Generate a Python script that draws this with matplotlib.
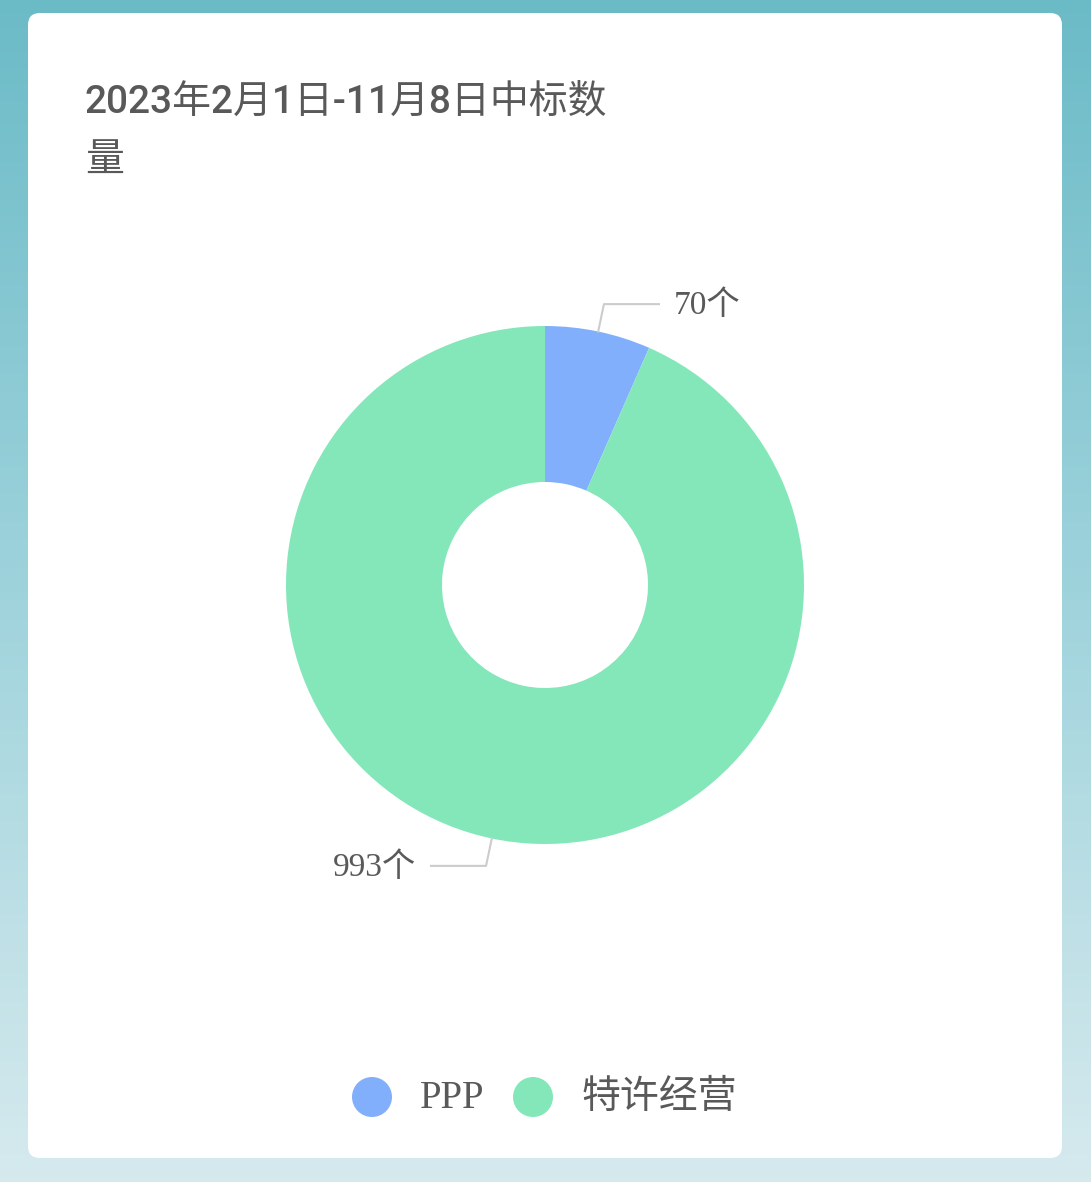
import numpy as np
import matplotlib
matplotlib.use("Agg")
import matplotlib.pyplot as plt
from matplotlib.patches import FancyBboxPatch
from matplotlib.colors import LinearSegmentedColormap

# data
title_lines = ["2023年2月1日-11月8日中标数", "量"]
labels = ["PPP", "特许经营"]
values = [70, 993]
value_text = ["70个", "993个"]
colors = ["#82affc", "#84e7b9"]

W, H = 1091, 1182
fig = plt.figure(figsize=(W / 100, H / 100), dpi=100)
ax = fig.add_axes([0, 0, 1, 1])
ax.set_xlim(0, W)
ax.set_ylim(0, H)
ax.axis("off")

# background gradient
bg = LinearSegmentedColormap.from_list("bg", ["#d6eaee", "#9fd3dc", "#6bbbc7"])
grad = np.linspace(0, 1, 256).reshape(-1, 1)
ax.imshow(grad, cmap=bg, extent=[0, W, 0, H], origin="lower", aspect="auto", zorder=0)

# white card
card = FancyBboxPatch((28 + 12, H - 1158 + 12), 1034 - 24, 1145 - 24,
                      boxstyle="round,pad=12", fc="white", ec="none", zorder=1)
ax.add_patch(card)

# title
sans_cjk = ["Roboto", "Noto Sans CJK SC"]
for i, line in enumerate(title_lines):
    ax.text(85, H - 103 - 57 * i, line, fontsize=28, color="#595959",
            family=sans_cjk, fontweight="medium", va="center", ha="left", zorder=3)

# donut
cx, cy = 545, H - 585
r_out, r_in = 259, 103
wedges, _ = ax.pie(values, colors=colors, startangle=90, counterclock=False,
                   center=(cx, cy), radius=r_out, frame=True,
                   wedgeprops=dict(width=r_out - r_in, edgecolor="none"))
for w in wedges:
    w.set_zorder(2)
ax.set_xlim(0, W)
ax.set_ylim(0, H)
ax.set_aspect("auto")
ax.axis("off")

# labels with leader lines
serif_cjk = ["Liberation Serif", "Noto Sans CJK SC"]
for w, txt in zip(wedges, value_text):
    mid = np.deg2rad((w.theta1 + w.theta2) / 2)
    x0, y0 = cx + r_out * np.cos(mid), cy + r_out * np.sin(mid)
    x1, y1 = cx + (r_out + 28) * np.cos(mid), cy + (r_out + 28) * np.sin(mid)
    side = 1 if np.cos(mid) >= 0 else -1
    x2 = x1 + side * 55
    ax.plot([x0, x1, x2], [y0, y1, y1], color="#cccccc", lw=1.5, zorder=3)
    ax.text(x2 + side * 15, y1 - 2, txt, fontsize=24, color="#595959", family=serif_cjk,
            ha="left" if side > 0 else "right", va="center", zorder=3)

# legend
leg_x = [372, 533]
leg_y = H - 1097
for x, lab, c in zip(leg_x, labels, colors):
    ax.scatter([x], [leg_y], s=(40 * 0.72) ** 2, color=c, zorder=3, edgecolors="none")
    ax.text(x + 48, leg_y - 1, lab, fontsize=28, color="#595959", family=serif_cjk,
            ha="left", va="center", zorder=3)

fig.savefig("out.png", dpi=100)
